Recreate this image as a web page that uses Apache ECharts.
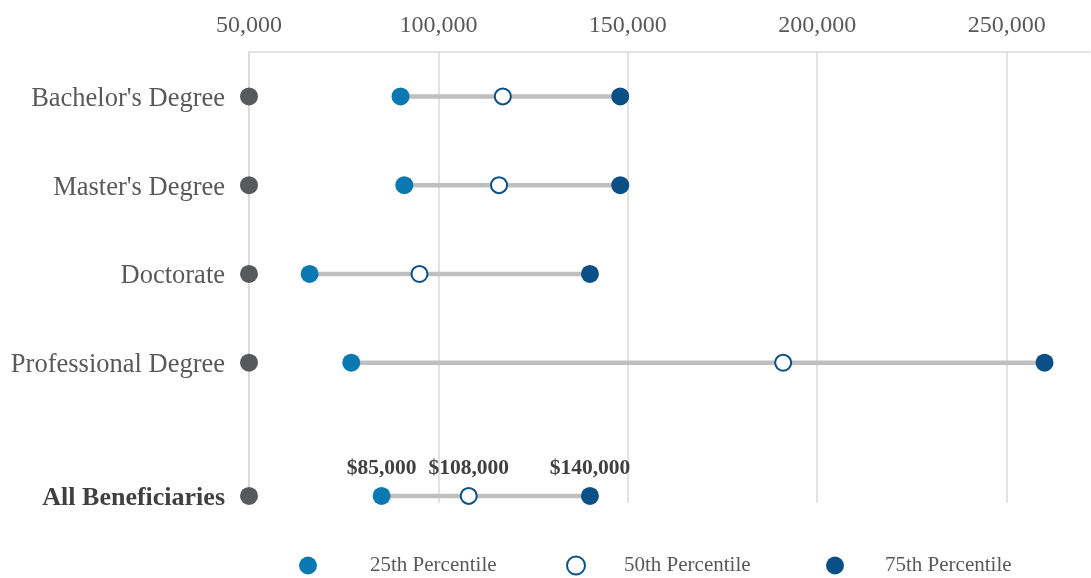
<!DOCTYPE html>
<html>
<head>
<meta charset="utf-8">
<title>Earnings by Degree</title>
<script src="https://cdn.jsdelivr.net/npm/echarts@6/dist/echarts.min.js"></script>
<style>
  html, body { margin: 0; padding: 0; background: #ffffff; }
  #chart { width: 1091px; height: 578px; }
</style>
</head>
<body>
<div id="chart"></div>
<script>
// Earnings percentiles by highest degree
const categories = ["Bachelor's Degree", "Master's Degree", "Doctorate", "Professional Degree", "All Beneficiaries"];
const p25 = [90000, 91000, 66000, 77000, 85000];
const p50 = [117000, 116000, 95000, 191000, 108000];
const p75 = [148000, 148000, 140000, 260000, 140000];
const baseline = [50000, 50000, 50000, 50000, 50000];
const xTicks = [50000, 100000, 150000, 200000, 250000];
const seriesNames = ['25th Percentile', '50th Percentile', '75th Percentile'];

const FONT = '"Liberation Serif", "Times New Roman", serif';
const GREY_TEXT = '#595959';
const GRID = '#d9d9d9';
const C25 = '#0b79b1';
const C75 = '#0a4f86';
const DOT = '#58595b';
const X_MAX = 272000;

// Row placement: the summary row sits a half step below the others
function rowY(i) { return i < categories.length - 1 ? i + 0.5 : i + 1; }
const summaryIdx = categories.length - 1;

function fmtNum(v) {
  return String(Math.round(v)).replace(/\B(?=(\d{3})+(?!\d))/g, ',');
}

const pts = arr => arr.map((v, i) => [v, rowY(i)]);

const chart = echarts.init(document.getElementById('chart'), null, { renderer: 'canvas' });

const valueLabel = {
  show: true,
  position: 'top',
  distance: 7,
  fontFamily: FONT,
  fontSize: 21.5,
  fontWeight: 'bold',
  color: '#404040',
  formatter: p => '$' + fmtNum(p.value[0])
};

function withSummaryLabel(arr) {
  return arr.map((v, i) => {
    const d = { value: [v, rowY(i)] };
    if (i === summaryIdx) d.label = valueLabel;
    return d;
  });
}

const legendBase = {
  orient: 'horizontal',
  top: 550,
  itemWidth: 18,
  itemHeight: 18,
  selectedMode: false,
  textStyle: { fontFamily: FONT, fontSize: 21, color: GREY_TEXT }
};

// split lines only at the labelled ticks, none at the right edge
const splitColors = xTicks.map(() => GRID).concat(['rgba(0,0,0,0)']);

chart.setOption({
  animation: false,
  backgroundColor: '#ffffff',
  grid: { left: 249, right: 1, top: 52, bottom: 75, containLabel: false },
  xAxis: {
    type: 'value',
    position: 'top',
    min: xTicks[0],
    max: X_MAX,
    interval: xTicks[1] - xTicks[0],
    axisLine: { show: true, lineStyle: { color: GRID, width: 1.5 } },
    axisTick: { show: false },
    splitLine: { show: true, lineStyle: { color: splitColors, width: 1.5 } },
    axisLabel: {
      margin: 14,
      fontFamily: FONT,
      fontSize: 24,
      color: GREY_TEXT,
      showMaxLabel: false,
      formatter: v => (xTicks.indexOf(v) >= 0 ? fmtNum(v) : '')
    }
  },
  yAxis: {
    type: 'value',
    inverse: true,
    min: 0,
    max: 5.08,
    interval: 0.5,
    axisLine: { show: true, lineStyle: { color: GRID, width: 1.5 } },
    axisTick: { show: false },
    splitLine: { show: false },
    axisLabel: {
      margin: 24,
      padding: [5, 0, 0, 0],
      fontFamily: FONT,
      fontSize: 26.5,
      color: GREY_TEXT,
      showMaxLabel: false,
      formatter: v => {
        const i = categories.findIndex((c, k) => Math.abs(rowY(k) - v) < 1e-6);
        if (i < 0) return '';
        return i === summaryIdx ? '{b|' + categories[i] + '}' : categories[i];
      },
      rich: {
        b: { fontFamily: FONT, fontSize: 26, fontWeight: 'bold', color: '#404040' }
      }
    }
  },
  legend: [
    Object.assign({}, legendBase, {
      left: 294, data: [seriesNames[0]],
      textStyle: Object.assign({}, legendBase.textStyle, { padding: [0, 0, 0, 48] })
    }),
    Object.assign({}, legendBase, {
      left: 561, data: [seriesNames[1]],
      textStyle: Object.assign({}, legendBase.textStyle, { padding: [0, 0, 0, 34] })
    }),
    Object.assign({}, legendBase, {
      left: 821, data: [seriesNames[2]],
      textStyle: Object.assign({}, legendBase.textStyle, { padding: [0, 0, 0, 36] })
    })
  ],
  series: [
    {
      // connector from the 25th to the 75th percentile on each row
      type: 'custom',
      name: 'range',
      z: 1,
      clip: false,
      encode: { x: [0, 1], y: 2 },
      data: categories.map((c, i) => [p25[i], p75[i], rowY(i)]),
      renderItem: (params, api) => {
        const a = api.coord([api.value(0), api.value(2)]);
        const b = api.coord([api.value(1), api.value(2)]);
        return {
          type: 'line',
          shape: { x1: a[0], y1: a[1], x2: b[0], y2: b[1] },
          style: { stroke: '#bfbfbf', lineWidth: 4.5 }
        };
      }
    },
    {
      type: 'scatter',
      name: 'baseline',
      z: 3,
      clip: false,
      symbol: 'circle',
      symbolSize: 18,
      itemStyle: { color: DOT, opacity: 1 },
      data: pts(baseline)
    },
    {
      type: 'scatter',
      name: seriesNames[0],
      z: 3,
      clip: false,
      symbol: 'circle',
      symbolSize: 18,
      itemStyle: { color: C25, opacity: 1 },
      data: withSummaryLabel(p25)
    },
    {
      type: 'scatter',
      name: seriesNames[1],
      z: 3,
      clip: false,
      symbol: 'circle',
      symbolSize: 16,
      itemStyle: { color: '#ffffff', borderColor: C75, borderWidth: 2, opacity: 1 },
      data: withSummaryLabel(p50)
    },
    {
      type: 'scatter',
      name: seriesNames[2],
      z: 3,
      clip: false,
      symbol: 'circle',
      symbolSize: 18,
      itemStyle: { color: C75, opacity: 1 },
      data: withSummaryLabel(p75)
    }
  ]
});
</script>
</body>
</html>
